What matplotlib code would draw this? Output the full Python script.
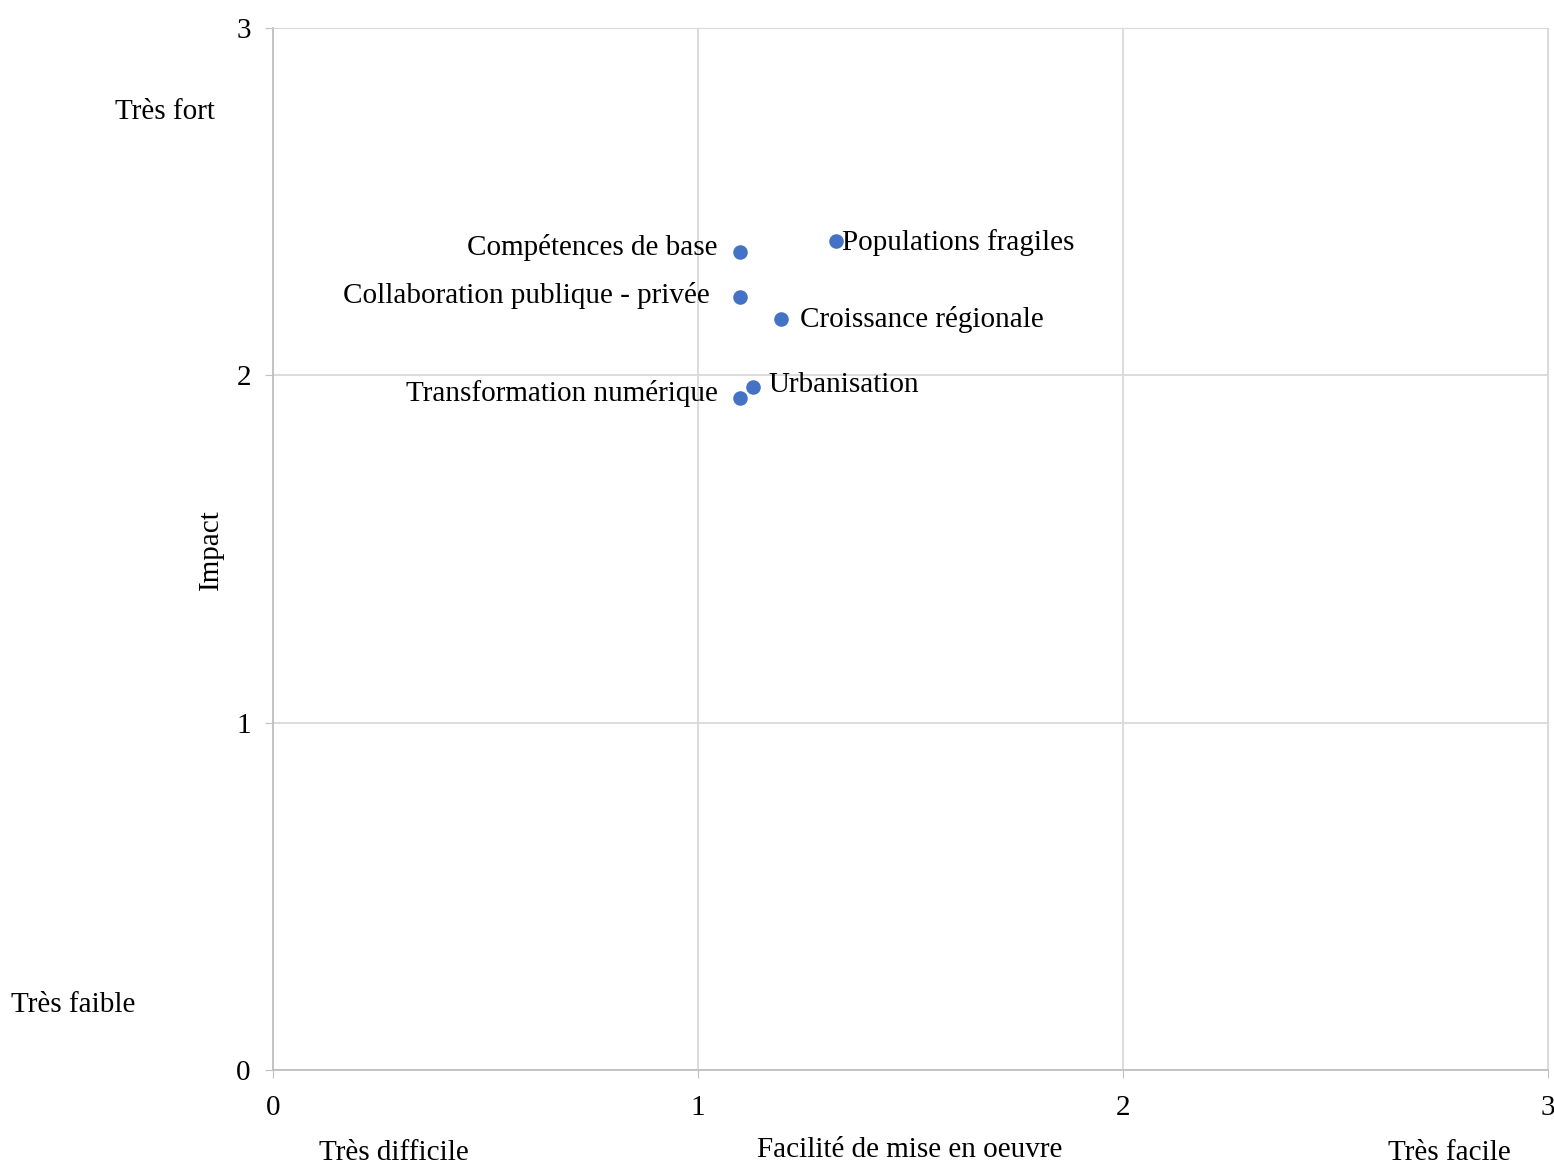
import matplotlib.pyplot as plt

# données
labels = ['Compétences de base', 'Populations fragiles', 'Collaboration publique - privée',
          'Croissance régionale', 'Urbanisation', 'Transformation numérique']
facilite = [1.099, 1.325, 1.099, 1.195, 1.129, 1.099]
impact = [2.355, 2.387, 2.226, 2.162, 1.967, 1.935]
# décalage des étiquettes (points)
offsets = [(-16, 3), (4, -1), (-22, 1), (14, 0), (11, 1), (-16, 3)]
ticks = [0, 1, 2, 3]

plt.rcParams['font.family'] = ['Liberation Serif', 'DejaVu Serif']
fs = 21

fig = plt.figure(figsize=(15.54, 11.64), dpi=100)
ax = fig.add_axes([0.1757, 0.0808, 0.8204, 0.8951])

ax.scatter(facilite, impact, s=110, color='#4472C4', zorder=3, linewidths=0)
for lab, x, y, off in zip(labels, facilite, impact, offsets):
    ha = 'right' if off[0] < 0 else 'left'
    ax.annotate(lab, (x, y), xytext=off, textcoords='offset points',
                ha=ha, va='center', fontsize=fs)

ax.set_xlim(0, 3)
ax.set_ylim(0, 3)
ax.set_xticks(ticks)
ax.set_yticks(ticks)
ax.tick_params(labelsize=fs, color='#bfbfbf', length=6)
ax.tick_params(axis='x', pad=12)
ax.tick_params(axis='y', pad=10)
ax.grid(color='#d9d9d9', linewidth=1.3)
ax.set_axisbelow(True)
for s in ['top', 'right']:
    ax.spines[s].set_color('#d9d9d9')
for s in ['left', 'bottom']:
    ax.spines[s].set_color('#bfbfbf')
    ax.spines[s].set_linewidth(1.3)

fig.text(211 / 1554, 1 - 550 / 1164, 'Impact', rotation=90, ha='center', va='center', fontsize=fs)
fig.text(910 / 1554, 1 - 1150 / 1164, 'Facilité de mise en oeuvre', ha='center', va='center', fontsize=fs)
fig.text(165 / 1554, 1 - 112 / 1164, 'Très fort', ha='center', va='center', fontsize=fs)
fig.text(73 / 1554, 1 - 1005 / 1164, 'Très faible', ha='center', va='center', fontsize=fs)
fig.text(394 / 1554, 1 - 1153 / 1164, 'Très difficile', ha='center', va='center', fontsize=fs)
fig.text(1449 / 1554, 1 - 1153 / 1164, 'Très facile', ha='center', va='center', fontsize=fs)

plt.savefig('out.png')
